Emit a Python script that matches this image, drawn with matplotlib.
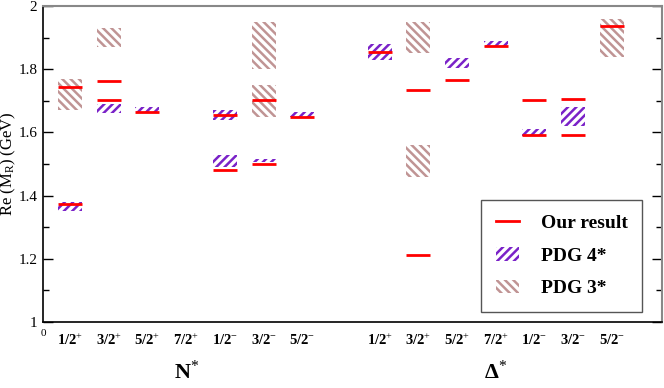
import matplotlib
matplotlib.use('Agg')
import matplotlib.pyplot as plt
from matplotlib.patches import Patch
from matplotlib.lines import Line2D
import numpy as np

plt.rcParams['font.family'] = ['Liberation Serif', 'DejaVu Serif']
plt.rcParams['mathtext.fontset'] = 'custom'
plt.rcParams['mathtext.rm'] = 'Liberation Serif'
plt.rcParams['mathtext.it'] = 'Liberation Serif:italic'
plt.rcParams['mathtext.bf'] = 'Liberation Serif:bold'
plt.rcParams['hatch.linewidth'] = 1.8

# J^P labels for each group
n_labels = ['1/2+', '3/2+', '5/2+', '7/2+', '1/2-', '3/2-', '5/2-']
d_labels = ['1/2+', '3/2+', '5/2+', '7/2+', '1/2-', '3/2-', '5/2-']

# our result (Re of pole mass, GeV)
our_cat = ['N 1/2+', 'N 1/2+', 'N 3/2+', 'N 3/2+', 'N 5/2+', 'N 1/2-', 'N 1/2-',
           'N 3/2-', 'N 3/2-', 'N 5/2-',
           'D 1/2+', 'D 3/2+', 'D 3/2+', 'D 5/2+', 'D 7/2+', 'D 1/2-', 'D 1/2-',
           'D 3/2-', 'D 3/2-', 'D 5/2-']
our_val = [1.372, 1.745, 1.763, 1.704, 1.665, 1.656, 1.481,
           1.703, 1.500, 1.650,
           1.853, 1.211, 1.734, 1.765, 1.873, 1.703, 1.592,
           1.707, 1.592, 1.938]

# PDG 4* ranges
pdg4_cat = ['N 1/2+', 'N 3/2+', 'N 5/2+', 'N 1/2-', 'N 1/2-', 'N 3/2-', 'N 5/2-',
            'D 1/2+', 'D 3/2+', 'D 5/2+', 'D 7/2+', 'D 1/2-', 'D 3/2-']
pdg4_lo = [1.350, 1.660, 1.665, 1.490, 1.640, 1.505, 1.650,
           1.830, 1.209, 1.805, 1.870, 1.590, 1.620]
pdg4_hi = [1.380, 1.690, 1.680, 1.530, 1.670, 1.515, 1.665,
           1.880, 1.211, 1.835, 1.890, 1.610, 1.680]

# PDG 3* ranges
pdg3_cat = ['N 1/2+', 'N 3/2+', 'N 3/2-', 'N 3/2-', 'D 3/2+', 'D 3/2+', 'D 5/2-']
pdg3_lo = [1.670, 1.870, 1.650, 1.800, 1.460, 1.850, 1.840]
pdg3_hi = [1.770, 1.930, 1.750, 1.950, 1.560, 1.950, 1.960]

# x position of each category
cat_x = {}
for i, l in enumerate(n_labels):
    cat_x['N ' + l] = i + 0.7
for i, l in enumerate(d_labels):
    cat_x['D ' + l] = i + 8.7

w = 0.62
purple = '#7a22c8'
brown = '#c09494'
red = '#ff0000'
h4 = '////'
h3 = '\\\\\\\\'

fig = plt.figure(figsize=(6.64, 3.88), dpi=100)
ax = fig.add_axes([0.0648, 0.170, 0.9322, 0.8145])

x4 = [cat_x[c] for c in pdg4_cat]
ax.bar(x4, np.array(pdg4_hi) - np.array(pdg4_lo), bottom=pdg4_lo, width=w,
       facecolor='white', edgecolor=purple, hatch=h4, linewidth=0)
x3 = [cat_x[c] for c in pdg3_cat]
ax.bar(x3, np.array(pdg3_hi) - np.array(pdg3_lo), bottom=pdg3_lo, width=w,
       facecolor='white', edgecolor=brown, hatch=h3, linewidth=0)

xo = np.array([cat_x[c] for c in our_cat])
ax.hlines(our_val, xo - w / 2, xo + w / 2, color=red, linewidth=2)

ax.set_xlim(0, 16)
ax.set_ylim(1, 2)

ax.set_yticks(np.arange(1, 2.01, 0.2))
ax.set_yticklabels(['1', '1.2', '1.4', '1.6', '1.8', '2'])
ax.set_yticks(np.arange(1.1, 2.0, 0.2), minor=True)
ax.tick_params(axis='y', which='both', direction='in', right=True, labelsize=11, pad=4)
ax.tick_params(axis='y', which='major', length=7, width=1)
ax.tick_params(axis='y', which='minor', length=4, width=1)

# J^P tick labels
def tex(l):
    sign = '+' if l[-1] == '+' else '-'
    return r'$\mathbf{' + l[:-1] + r'}^{' + sign + '}$'

xt = [cat_x['N ' + l] for l in n_labels] + [cat_x['D ' + l] for l in d_labels]
ax.set_xticks(xt)
ax.set_xticklabels([tex(l) for l in n_labels] + [tex(l) for l in d_labels], fontsize=10.5)
ax.tick_params(axis='x', length=0, pad=8)
ax.text(0, -0.035, '0', transform=ax.get_xaxis_transform(), ha='center', va='center', fontsize=8)

for s in ['top', 'right']:
    ax.spines[s].set_color('#888888')
    ax.spines[s].set_linewidth(1.5)
for s in ['left', 'bottom']:
    ax.spines[s].set_linewidth(1.2)

ax.set_ylabel(r'Re (M$_\mathrm{R}$) (GeV)', fontsize=12, labelpad=0)

ax.text(3.7, -0.16, r'$\mathbf{N}^{*}$', transform=ax.get_xaxis_transform(),
        ha='center', va='center', fontsize=16)
ax.text(11.7, -0.16, r'$\mathbf{\Delta}^{*}$', transform=ax.get_xaxis_transform(),
        ha='center', va='center', fontsize=16)

handles = [Line2D([], [], color=red, linewidth=2),
           Patch(facecolor='white', edgecolor=purple, hatch=h4, linewidth=0),
           Patch(facecolor='white', edgecolor=brown, hatch=h3, linewidth=0)]
leg = ax.legend(handles, ['Our result', 'PDG 4*', 'PDG 3*'], loc='lower right',
                bbox_to_anchor=(0.968, 0.032), fancybox=False, edgecolor='#555555',
                framealpha=1, prop={'weight': 'bold', 'size': 14},
                handlelength=1.2, handletextpad=1.1, labelspacing=0.78, borderpad=0.75,
                borderaxespad=0)
leg.get_frame().set_linewidth(1.0)

fig.savefig('out.png', dpi=100)
